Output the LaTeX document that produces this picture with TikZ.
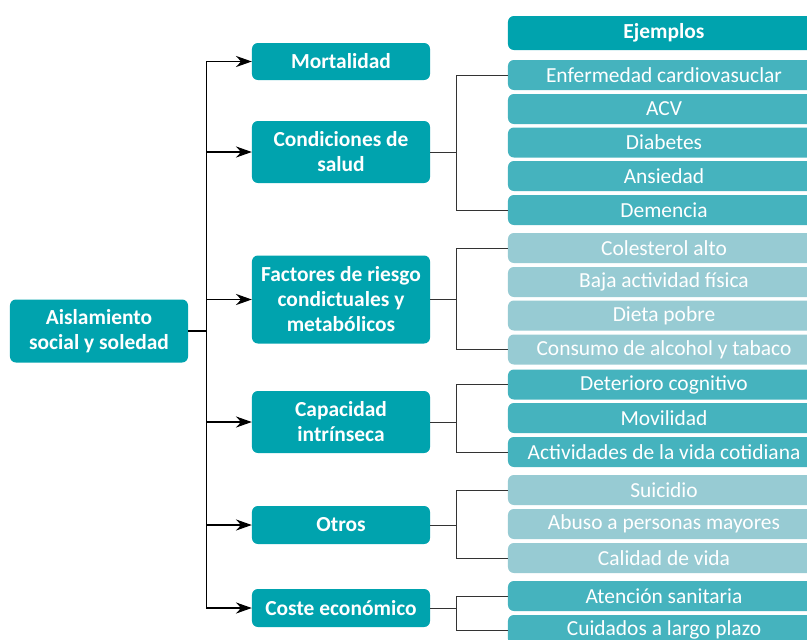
\documentclass[tikz,border=0pt]{standalone}
\usepackage{fontspec}
\setmainfont{Carlito}
\usetikzlibrary{arrows.meta}
\definecolor{tealdark}{HTML}{00A3AE}
\definecolor{tealmid}{HTML}{45B3BE}
\definecolor{teallight}{HTML}{97CBD3}
\tikzset{
  box/.style={rounded corners=5pt, fill=tealdark, text=white, align=center,
    font=\fontsize{18.3}{21.3}\selectfont\bfseries, minimum width=5.34cm, inner sep=0pt},
  ex/.style={rounded corners=5pt, text=white, align=center,
    font=\fontsize{18.3}{21.3}\selectfont, minimum width=9.36cm, minimum height=0.9cm, inner sep=0pt},
  exmid/.style={ex, fill=tealmid},
  exlight/.style={ex, fill=teallight},
  arr/.style={-{Stealth[length=13.5pt,width=9.5pt]}, line width=0.9pt},
  brk/.style={line width=0.8pt, black!80}
}
\begin{document}
\begin{tikzpicture}[x=0.03cm,y=-0.03cm]
    \useasboundingbox (0,0) rectangle (807,639);
    \begin{scope}
    % Root:
    \node[box, minimum height=1.89cm] (root) at (99,331) {Aislamiento\\social y soledad};

    % Middle column:
    \node[box, minimum height=1.11cm] (mort) at (341,61.5) {Mortalidad};
    \node[box, minimum height=1.86cm] (cond) at (341,152) {Condiciones de\\salud};
    \node[box, minimum height=2.64cm] (fact) at (341,299.5) {Factores de riesgo\\condictuales y\\metabólicos};
    \node[box, minimum height=1.86cm] (cap) at (341,422) {Capacidad\\intrínseca};
    \node[box, minimum height=1.14cm] (otros) at (341,525) {Otros};
    \node[box, minimum height=1.14cm] (coste) at (341,608) {Coste económico};

    % Trunk and arrows:
    \draw[line width=0.9pt] (root.east) -- ++(18,0) coordinate (hub);
    \draw[line width=0.9pt] (hub |- mort.west) -- (hub |- coste.west);
    \draw[arr] (hub |- mort.west) -- (mort.west);
    \draw[arr] (hub |- cond.west) -- (cond.west);
    \draw[arr] (hub |- fact.west) -- (fact.west);
    \draw[arr] (hub |- cap.west) -- (cap.west);
    \draw[arr] (hub |- otros.west) -- (otros.west);
    \draw[arr] (hub |- coste.west) -- (coste.west);

    % Examples:
    \node[ex, fill=tealdark, minimum height=1.02cm, font=\fontsize{18.3}{21.3}\selectfont\bfseries] (ejem) at (664,33) {Ejemplos};

    \node[exmid] (c1) at (664,75) {Enfermedad cardiovasuclar};
    \node[exmid] (c2) at (664,109) {ACV};
    \node[exmid] (c3) at (664,142.5) {Diabetes};
    \node[exmid] (c4) at (664,176) {Ansiedad};
    \node[exmid] (c5) at (664,210) {Demencia};

    \node[exlight] (f1) at (664,248) {Colesterol alto};
    \node[exlight] (f2) at (664,282) {Baja actividad física};
    \node[exlight] (f3) at (664,315.5) {Dieta pobre};
    \node[exlight] (f4) at (664,349.5) {Consumo de alcohol y tabaco};

    \node[exmid] (k1) at (664,384.5) {Deterioro cognitivo};
    \node[exmid] (k2) at (664,418) {Movilidad};
    \node[exmid] (k3) at (664,452) {Actividades de la vida cotidiana};

    \node[exlight] (o1) at (664,490) {Suicidio};
    \node[exlight] (o2) at (664,524) {Abuso a personas mayores};
    \node[exlight] (o3) at (664,558) {Calidad de vida};

    \node[exmid] (s1) at (664,596) {Atención sanitaria};
    \node[exmid] (s2) at (664,630) {Cuidados a largo plazo};

    % Brackets:
    \draw[brk] (cond.east) -- ++(26,0) coordinate (bc);
    \draw[brk] (c1.west) -| (bc) |- (c5.west);
    \draw[brk] (fact.east) -- ++(26,0) coordinate (bf);
    \draw[brk] (f1.west) -| (bf) |- (f4.west);
    \draw[brk] (cap.east) -- ++(26,0) coordinate (bk);
    \draw[brk] (k1.west) -| (bk) |- (k3.west);
    \draw[brk] (otros.east) -- ++(26,0) coordinate (bo);
    \draw[brk] (o1.west) -| (bo) |- (o3.west);
    \draw[brk] (coste.east) -- ++(26,0) coordinate (bs);
    \draw[brk] (s1.west) -| (bs) |- (s2.west);
    \end{scope}
\end{tikzpicture}
\end{document}
